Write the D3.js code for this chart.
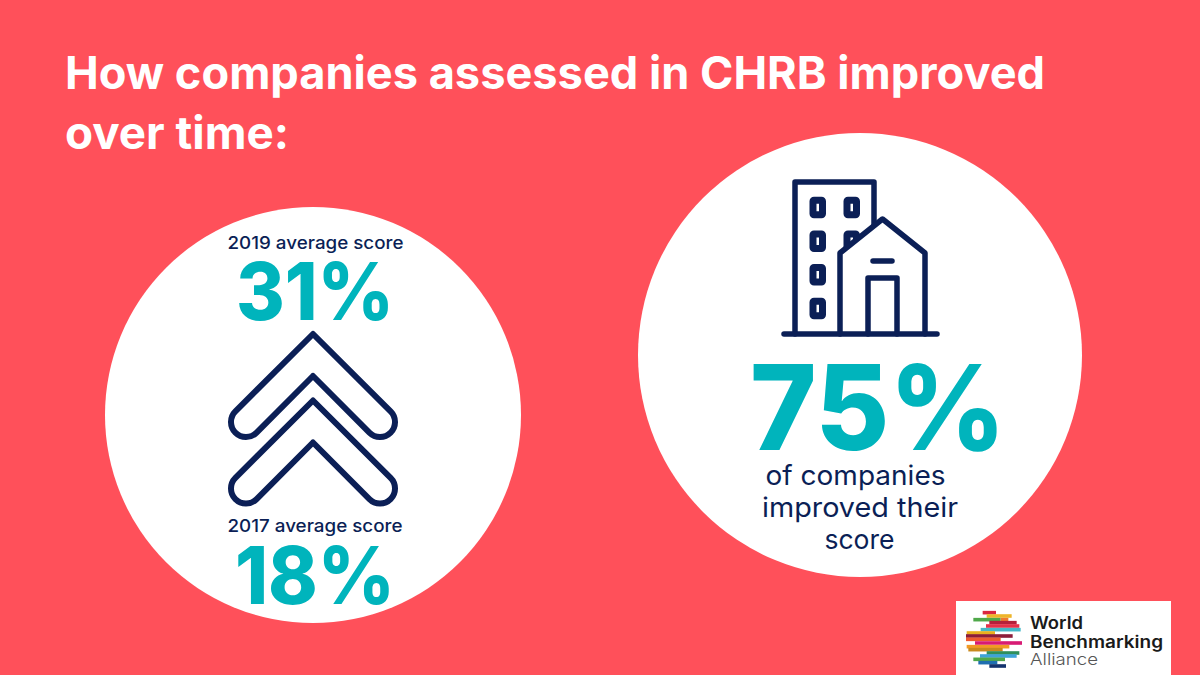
<!DOCTYPE html>
<html>
<head>
<meta charset="utf-8">
<script src="https://cdn.jsdelivr.net/npm/d3@7"></script>
<style>
html,body{margin:0;padding:0;background:#ff505a;}
svg{display:block;}
text{font-family:Inter,"Open Sans",sans-serif;}
</style>
</head>
<body>
<svg id="chart" width="1200" height="675"></svg>
<script>
const titleLines = ["How companies assessed in CHRB improved", "over time:"];
const scoreLabels = ["2019 average score", "2017 average score"];
const scoreValues = [31, 18];
const improvedValue = 75;
const improvedLines = ["of companies", "improved their", "score"];
const logoLines = ["World", "Benchmarking", "Alliance"];

const bg = "#ff505a", teal = "#00b4bc", navy = "#0b1f56";

const svg = d3.select("#chart");
svg.append("rect").attr("width", 1200).attr("height", 675).attr("fill", bg);

// helper, textLength keeps the widths close to the reference font
function label(x, y, str, size, weight, fill, anchor, len){
	const t = svg.append("text")
		.attr("x", x).attr("y", y)
		.attr("font-size", size)
		.attr("font-weight", weight)
		.attr("fill", fill)
		.attr("text-anchor", anchor || "start")
		.text(str);
	if(len){
		t.attr("textLength", len).attr("lengthAdjust", "spacingAndGlyphs");
	}
	return t;
}

// title
label(65, 89, titleLines[0], 45, 700, "#fff", "start", 980);
label(65, 149, titleLines[1], 45, 700, "#fff", "start", 224);

// circles
svg.append("circle").attr("cx", 313).attr("cy", 415).attr("r", 208).attr("fill", "#fff");
svg.append("circle").attr("cx", 860).attr("cy", 355).attr("r", 222).attr("fill", "#fff");

// left circle texts
label(315.5, 249, scoreLabels[0], 17.5, 500, navy, "middle", 176);
label(315, 320, scoreValues[0] + "%", 80, 800, teal, "middle", 158);
label(315, 532, scoreLabels[1], 17.5, 500, navy, "middle", 175);
label(315, 604, scoreValues[1] + "%", 80, 800, teal, "middle", 160);

// double chevron
function chevron(top){
	const cx = 313, r = 15, k = r*Math.SQRT1_2;
	const lobeX = 67, lobeY = 88;
	const p = d3.path();
	p.moveTo(cx, top);
	p.lineTo(cx + lobeX + k, top + lobeY - k);
	p.arc(cx + lobeX, top + lobeY, r, -Math.PI/4, 3*Math.PI/4, false);
	p.lineTo(cx, top + 42);
	p.lineTo(cx - lobeX + k, top + lobeY + k);
	p.arc(cx - lobeX, top + lobeY, r, Math.PI/4, 5*Math.PI/4, false);
	p.closePath();
	return p.toString();
}
[334, 400.5].forEach(top => {
	svg.append("path")
		.attr("d", chevron(top))
		.attr("fill", "none")
		.attr("stroke", navy)
		.attr("stroke-width", 6)
		.attr("stroke-linejoin", "round");
});

// building icon
const icon = svg.append("g").attr("fill", "none").attr("stroke", navy)
	.attr("stroke-width", 5.5).attr("stroke-linejoin", "round").attr("stroke-linecap", "round");
const line = d3.line();
icon.append("path").attr("d", line([[795, 334], [795, 182], [874, 182], [874, 225]]));
[200.2, 233.9, 267.5, 301.2].forEach(y => {
	[813, 847].forEach(x => {
		icon.append("rect").attr("x", x).attr("y", y)
			.attr("width", 9.5).attr("height", 14.6).attr("rx", 1)
			.attr("stroke-width", 7);
	});
});
icon.append("path").attr("d", line([[840, 334], [840, 253], [882.5, 219], [925, 253], [925, 334]])).attr("fill", "#fff");
icon.append("path").attr("d", line([[868, 334], [868, 278], [897, 278], [897, 334]]));
icon.append("path").attr("d", line([[873, 261], [892, 261]]));
icon.append("path").attr("d", line([[784, 334], [937, 334]]));

// right circle texts
label(878, 450, improvedValue + "%", 118, 800, teal, "middle", 256);
const improvedX = [855.5, 860, 859.5], improvedLen = [180, 196, 70];
improvedLines.forEach((s, i) => {
	label(improvedX[i], 485 + i*32, s, 27, 400, navy, "middle", improvedLen[i]);
});

// logo
svg.append("rect").attr("x", 956).attr("y", 601).attr("width", 215).attr("height", 74).attr("fill", "#fff");
const stripes = [
	[68,108,20,"#d9263f"],[80,155,30,"#eeb52a"],[40,122,41,"#4fa84a"],[122,145,41,"#ee7a2f"],
	[88,170,50,"#b5203a"],[78,178,60,"#e5304a"],[62,182,71,"#45b8c8"],[20,105,81,"#eab01f"],
	[18,158,90,"#8c1d3a"],[18,122,100,"#ee5a2f"],[45,186,111,"#d81b74"],[20,148,122,"#f29a25"],
	[25,128,131,"#c98a1e"],[80,178,141,"#2f8f5b"],[60,170,150,"#3ea3d8"],[40,135,160,"#4fa84a"],
	[55,112,170,"#1f6fb0"],[88,138,180,"#14336e"]
];
svg.append("g").selectAll("rect").data(stripes).enter().append("rect")
	.attr("x", d => 960 + d[0]/3)
	.attr("width", d => (d[1]-d[0])/3)
	.attr("y", d => 606 + d[2]/3 - 1.8)
	.attr("height", 3.6)
	.attr("fill", d => d[3]);
label(1030, 629, logoLines[0], 17, 600, "#1a1a1a", "start", 53);
label(1030, 648, logoLines[1], 17, 600, "#1a1a1a", "start", 133);
label(1030, 665, logoLines[2], 16.5, 300, "#555", "start", 68);
</script>
</body>
</html>
